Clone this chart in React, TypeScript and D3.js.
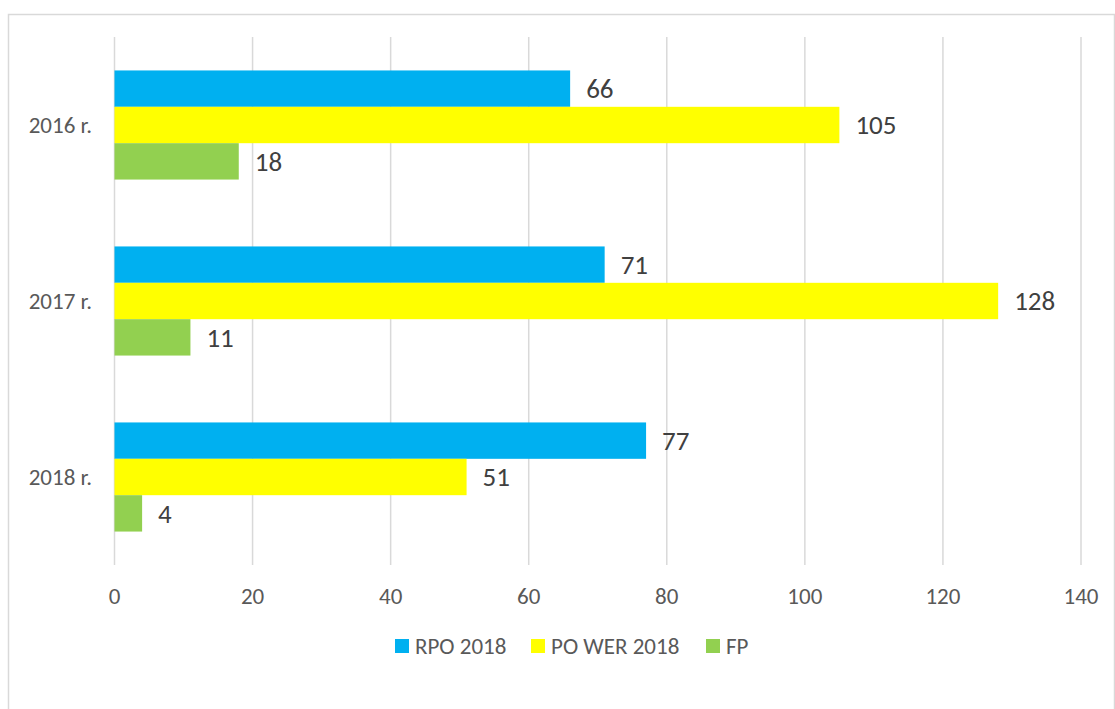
import React, { useEffect, useRef } from 'react';
import * as d3 from 'd3';

const categories = ['2016 r.', '2017 r.', '2018 r.'];
const seriesNames = ['RPO 2018', 'PO WER 2018', 'FP'];
const seriesColors = ['#00B0F0', '#FFFF00', '#92D050'];
const rpo = [66, 71, 77];
const power = [105, 128, 51];
const fp = [18, 11, 4];
const xTicks = [0, 20, 40, 60, 80, 100, 120, 140];

const FONT = 'Carlito, Calibri, Lato, sans-serif';

export default function App() {
  const ref = useRef<SVGSVGElement | null>(null);

  useEffect(() => {
    const svg = d3.select(ref.current);
    svg.selectAll('*').remove();

    const margin = { left: 114.5, right: 34, top: 37, bottom: 144 };
    const width = 1115;
    const height = 709;
    const values = [rpo, power, fp];

    // chart border
    svg
      .append('rect')
      .attr('x', 8.5)
      .attr('y', 14.5)
      .attr('width', 1106)
      .attr('height', 720)
      .attr('fill', '#fff')
      .attr('stroke', '#d9d9d9')
      .attr('stroke-width', 1.5);

    const x = d3.scaleLinear().domain([0, 140]).range([margin.left, width - margin.right]);
    const y = d3
      .scaleBand()
      .domain(categories)
      .range([margin.top, height - margin.bottom])
      .paddingInner(0.38)
      .paddingOuter(0.19);
    const ySub = d3.scaleBand().domain(seriesNames).range([0, y.bandwidth()]);

    // gridlines
    svg
      .append('g')
      .selectAll('line')
      .data(xTicks)
      .enter()
      .append('line')
      .attr('x1', (d) => x(d))
      .attr('x2', (d) => x(d))
      .attr('y1', margin.top)
      .attr('y2', height - margin.bottom)
      .attr('stroke', '#d9d9d9')
      .attr('stroke-width', 1.5);

    // x tick labels
    svg
      .append('g')
      .selectAll('text')
      .data(xTicks)
      .enter()
      .append('text')
      .attr('x', (d) => x(d))
      .attr('y', 596)
      .attr('dy', '0.35em')
      .attr('text-anchor', 'middle')
      .attr('font-family', FONT)
      .attr('font-size', 23)
      .attr('fill', '#595959')
      .text((d) => d);

    // category labels
    svg
      .append('g')
      .selectAll('text')
      .data(categories)
      .enter()
      .append('text')
      .attr('x', 92)
      .attr('y', (d) => (y(d) as number) + y.bandwidth() / 2)
      .attr('dy', '0.35em')
      .attr('text-anchor', 'end')
      .attr('font-family', FONT)
      .attr('font-size', 23)
      .attr('fill', '#595959')
      .text((d) => d);

    // bars and labels
    seriesNames.forEach((name, si) => {
      const g = svg.append('g');
      const rows = categories.map((c, i) => ({ c, v: values[si][i] }));
      g.selectAll('rect')
        .data(rows)
        .enter()
        .append('rect')
        .attr('x', x(0))
        .attr('y', (d) => (y(d.c) as number) + (ySub(name) as number))
        .attr('width', (d) => x(d.v) - x(0))
        .attr('height', ySub.bandwidth())
        .attr('fill', seriesColors[si]);
      g.selectAll('text')
        .data(rows)
        .enter()
        .append('text')
        .attr('x', (d) => x(d.v) + 16)
        .attr('y', (d) => (y(d.c) as number) + (ySub(name) as number) + ySub.bandwidth() / 2)
        .attr('dy', '0.35em')
        .attr('font-family', FONT)
        .attr('font-size', 27)
        .attr('fill', '#404040')
        .text((d) => d.v);
    });

    // legend
    const legendX = [395, 531, 706];
    const legend = svg
      .append('g')
      .selectAll('g')
      .data(seriesNames)
      .enter()
      .append('g')
      .attr('transform', (d, i) => `translate(${legendX[i]}, 639)`);
    legend
      .append('rect')
      .attr('width', 14)
      .attr('height', 14)
      .attr('fill', (d, i) => seriesColors[i]);
    legend
      .append('text')
      .attr('x', 20)
      .attr('y', 7)
      .attr('dy', '0.35em')
      .attr('font-family', FONT)
      .attr('font-size', 23)
      .attr('fill', '#595959')
      .text((d) => d);
  }, []);

  return (
    <svg
      ref={ref}
      width={1115}
      height={709}
      style={{ position: 'absolute', left: 0, top: 0, background: '#fff' }}
    />
  );
}
